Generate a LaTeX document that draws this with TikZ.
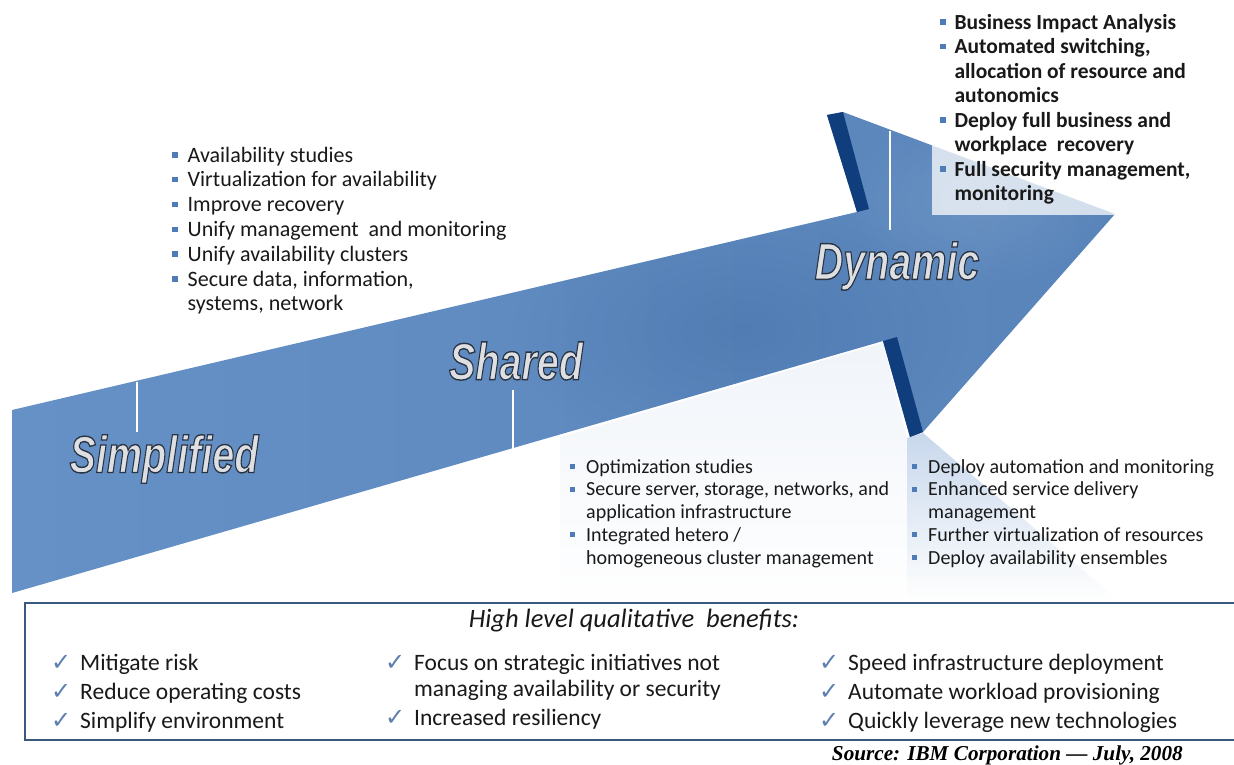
\documentclass[tikz,border=0pt]{standalone}
\usepackage{fontspec}
\setmainfont{Carlito}
\newfontfamily\stagefont{Liberation Sans}
\newfontfamily\sourcefont{Liberation Serif}
\newfontfamily\symbolfont{DejaVu Sans}
\usetikzlibrary{fadings}

\definecolor{shaftlight}{RGB}{102,145,198}
\definecolor{shaftblue}{RGB}{88,132,186}
\definecolor{bandnavy}{RGB}{16,62,124}
\definecolor{bulletblue}{RGB}{79,124,184}
\definecolor{checkblue}{RGB}{92,126,176}
\definecolor{frameblue}{RGB}{58,88,128}
\definecolor{labelface}{RGB}{222,223,226}
\definecolor{glow}{RGB}{190,209,233}
\definecolor{bodytext}{RGB}{25,25,25}

\tikzfading[name=fadedown, top color=transparent!0, bottom color=transparent!100]
\tikzfading[name=softspot, inner color=transparent!0, outer color=transparent!100]

\newcommand\sqbullet{\textcolor{bulletblue}{\rule[0.2em]{0.25em}{0.25em}}}
\newcommand\chk{\makebox[29pt][l]{\symbolfont\fontsize{24}{24}\selectfont\textcolor{checkblue}{✓}}}
% light lettering with a dark rim (fill and stroke text rendering)
\newcommand\stagename[1]{\scalebox{0.76}[1]{\stagefont\bfseries\itshape\fontsize{52}{52}\selectfont
  \color{labelface}\special{pdf:literal direct 2 Tr 1.4 w 0.16 0.2 0.26 RG}#1\special{pdf:literal direct 0 Tr}}}

\tikzset{
  listnode/.style={anchor=base west, inner sep=0pt, text=bodytext},
  stagelabel/.style={inner sep=0pt},
  tickline/.style={white, line width=1.4pt},
  bandfill/.style={fill=bandnavy},
  benefitlist/.style={listnode, font=\fontsize{23.5}{29}\selectfont},
}

\begin{document}
\begin{tikzpicture}[x=1pt,y=-1pt]
\useasboundingbox (0,0) rectangle (1234,764);
\fill[white] (0,0) rectangle (1234,764);

% soft reflections under the arrow
\fill[glow, opacity=0.85, path fading=fadedown] (907,438) -- (923,433) -- (1118,600) -- (907,600) -- cycle;
\fill[glow, opacity=0.22, path fading=fadedown] (560,437) -- (883,343) -- (907,438) -- (907,600) -- (560,600) -- cycle;

% arrow body
\shade[left color=shaftlight, right color=shaftblue]
  (12,410) -- (857,212) -- (827,115) -- (843,112) -- (1115,214)
  -- (923,432) -- (910,437) -- (883,341) -- (12,593) -- cycle;
\begin{scope}
  \clip (12,410) -- (857,212) -- (827,115) -- (843,112) -- (1115,214)
    -- (923,432) -- (910,437) -- (883,341) -- (12,593) -- cycle;
  \fill[bandnavy, opacity=0.16, path fading=softspot] (740,330) ellipse (230 and 130);
  \fill[white, opacity=0.10, path fading=softspot] (980,200) ellipse (140 and 90);
\end{scope}

% dark edges of the arrow head
\fill[bandfill] (827,115) -- (843,112) -- (869,209) -- (857,212) -- cycle;
\fill[bandfill] (883,341) -- (897,337) -- (923,432) -- (910,437) -- cycle;

% stage markers
\draw[tickline] (137,382) -- (137,432);
\draw[tickline] (513,390) -- (513,449);
\draw[tickline] (890,131) -- (890,230);

% translucent panel behind the top right list
\fill[white, opacity=0.74] (932,102) rectangle (1232,215);

% stage labels
\node[stagelabel] (simplified) at (164,459) {\stagename{Simplified}};
\node[stagelabel] (shared)     at (516,361) {\stagename{Shared}};
\node[stagelabel] (dynamic)    at (897,266) {\stagename{Dynamic}};

% bullet lists
\node[listnode, font=\fontsize{22}{24.8}\selectfont] (simplified-list) at (172,162) {%
  \begin{tabular}[t]{@{}l@{\hspace{10pt}}l@{}}
  \sqbullet & Availability studies\\
  \sqbullet & Virtualization for availability\\
  \sqbullet & Improve recovery\\
  \sqbullet & Unify management\ \ and monitoring\\
  \sqbullet & Unify availability clusters\\
  \sqbullet & Secure data, information,\\
            & systems, network
  \end{tabular}};

\node[listnode, font=\bfseries\fontsize{21.5}{24.5}\selectfont] (dynamic-list) at (940,29) {%
  \begin{tabular}[t]{@{}l@{\hspace{9pt}}l@{}}
  \sqbullet & Business Impact Analysis\\
  \sqbullet & Automated switching,\\
            & allocation of resource and\\
            & autonomics\\
  \sqbullet & Deploy full business and\\
            & workplace\ \ recovery\\
  \sqbullet & Full security management,\\
            & monitoring
  \end{tabular}};

\node[listnode, font=\fontsize{20}{22.8}\selectfont] (shared-list) at (570,473) {%
  \begin{tabular}[t]{@{}l@{\hspace{11pt}}l@{}}
  \sqbullet & Optimization studies\\
  \sqbullet & Secure server, storage, networks, and\\
            & application infrastructure\\
  \sqbullet & Integrated hetero /\\
            & homogeneous cluster management
  \end{tabular}};

\node[listnode, font=\fontsize{20}{22.8}\selectfont] (dynamic-list-two) at (912,473) {%
  \begin{tabular}[t]{@{}l@{\hspace{11pt}}l@{}}
  \sqbullet & Deploy automation and monitoring\\
  \sqbullet & Enhanced service delivery\\
            & management\\
  \sqbullet & Further virtualization of resources\\
  \sqbullet & Deploy availability ensembles
  \end{tabular}};

% benefits panel
\draw[frameblue, line width=2pt] (1240,603) -- (25,603) -- (25,740) -- (1240,740);
\node[inner sep=0pt, text=bodytext, font=\itshape\fontsize{26.5}{28}\selectfont] (heading) at (634,621)
  {High level qualitative\ \ benefits:};

\node[benefitlist] (benefits-one) at (51,670) {%
  \begin{tabular}[t]{@{}l@{}l@{}}
  \chk & Mitigate risk\\
  \chk & Reduce operating costs\\
  \chk & Simplify environment
  \end{tabular}};

\node[benefitlist] (benefits-two) at (385,670) {%
  \begin{tabular}[t]{@{}l@{}l@{}}
  \chk & Focus on strategic initiatives not\\[-3pt]
       & managing availability or security\\
  \chk & Increased resiliency
  \end{tabular}};

\node[benefitlist] (benefits-three) at (819,670) {%
  \begin{tabular}[t]{@{}l@{}l@{}}
  \chk & Speed infrastructure deployment\\
  \chk & Automate workload provisioning\\
  \chk & Quickly leverage new technologies
  \end{tabular}};

\node[anchor=base east, inner sep=0pt, text=black,
      font=\sourcefont\bfseries\itshape\fontsize{21.2}{24}\selectfont] (source) at (1183,760)
  {Source: IBM Corporation — July, 2008};
\end{tikzpicture}
\end{document}
